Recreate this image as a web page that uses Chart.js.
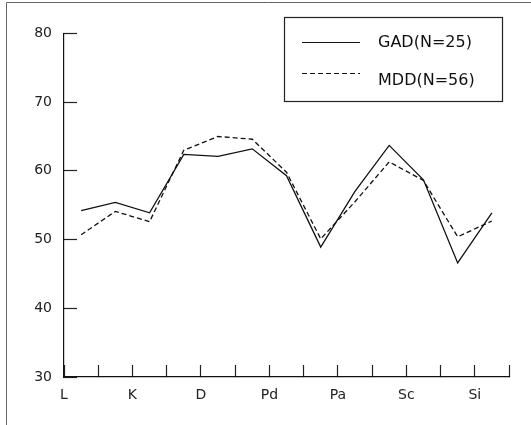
<!DOCTYPE html>
<html><head><meta charset="utf-8">
<script src="https://cdn.jsdelivr.net/npm/chart.js@4/dist/chart.umd.min.js"></script>
<style>
html,body{margin:0;padding:0;background:#fff;overflow:hidden;}
canvas{display:block;}
</style></head><body>
<canvas id="c" width="531" height="425"></canvas>
<script>
// MMPI clinical scales (13 points)
const categories = ['L','F','K','Hs','D','Hy','Pd','Mf','Pa','Pt','Sc','Ma','Si'];
const tickLabels = ['L','','K','','D','','Pd','','Pa','','Sc','','Si',''];
const gadValues = [54.2,55.4,53.9,62.4,62.1,63.2,59.3,48.9,57.0,63.7,58.7,46.6,53.9];
const mddValues = [50.7,54.1,52.6,63.0,65.0,64.6,59.8,50.1,55.5,61.3,58.6,50.4,52.7];
const seriesNames = ['GAD(N=25)','MDD(N=56)'];
const yTicks = [30,40,50,60,70,80];

const toPoints = arr => arr.map((v,i)=>({x:i+0.5,y:v}));

const frameAndLegend = {
  id:'frameAndLegend',
  beforeDraw(chart){
    const ctx = chart.ctx;
    ctx.save();
    ctx.fillStyle='#fff'; ctx.fillRect(0,0,chart.width,chart.height);
    ctx.strokeStyle='#666'; ctx.lineWidth=1;
    ctx.beginPath(); ctx.moveTo(6.5,chart.height); ctx.lineTo(6.5,2.5); ctx.lineTo(chart.width,2.5); ctx.stroke();
    ctx.restore();
  },
  afterDraw(chart){
    const ctx = chart.ctx;
    ctx.save();
    ctx.strokeStyle='#222'; ctx.lineWidth=1.2; ctx.setLineDash([]);
    ctx.strokeRect(284.5,17.5,218,84);
    const rows=[{y:42.5,ty:42.5},{y:73.5,ty:80.5}];
    chart.data.datasets.forEach((ds,i)=>{
      ctx.setLineDash(ds.borderDash||[]);
      ctx.strokeStyle = ds.borderColor; ctx.lineWidth=1.1;
      ctx.beginPath(); ctx.moveTo(302,rows[i].y); ctx.lineTo(360,rows[i].y); ctx.stroke();
      ctx.setLineDash([]);
      ctx.fillStyle='#111'; ctx.font='16px "DejaVu Sans"'; ctx.textBaseline='middle'; ctx.textAlign='left';
      ctx.fillText(ds.label,378,rows[i].ty);
    });
    ctx.restore();
  }
};

new Chart(document.getElementById('c'), {
  type:'line',
  data:{
    datasets:[
      {label:seriesNames[0], data:toPoints(gadValues), borderColor:'#111', borderWidth:1.3, pointRadius:0, tension:0, fill:false},
      {label:seriesNames[1], data:toPoints(mddValues), borderColor:'#111', borderWidth:1.3, borderDash:[5,3], pointRadius:0, tension:0, fill:false}
    ]
  },
  options:{
    responsive:false, animation:false,
    layout:{padding:{left:0,top:24,right:18,bottom:0}},
    plugins:{legend:{display:false}, tooltip:{enabled:false}},
    scales:{
      x:{
        type:'linear', min:0, max:tickLabels.length-1,
        afterBuildTicks:s=>{ s.ticks = tickLabels.map((_,i)=>({value:i})); },
        afterFit:s=>{ s.height = 48; },
        ticks:{autoSkip:false, maxRotation:0, padding:22, color:'#222', font:{family:'DejaVu Sans', size:14},
               callback:v=>tickLabels[v] ?? ''},
        grid:{drawOnChartArea:false, tickLength:-12, tickColor:'#222', tickWidth:1.2},
        border:{color:'#111', width:1.2}
      },
      y:{
        type:'linear', min:30, max:80,
        afterBuildTicks:s=>{ s.ticks = yTicks.map(v=>({value:v})); },
        afterFit:s=>{ s.width = 64; },
        ticks:{padding:25, color:'#222', font:{family:'DejaVu Sans', size:14}},
        grid:{drawOnChartArea:false, tickLength:-13, tickColor:'#222', tickWidth:1.2},
        border:{color:'#111', width:1.2}
      }
    }
  },
  plugins:[frameAndLegend]
});
</script>
</body></html>
